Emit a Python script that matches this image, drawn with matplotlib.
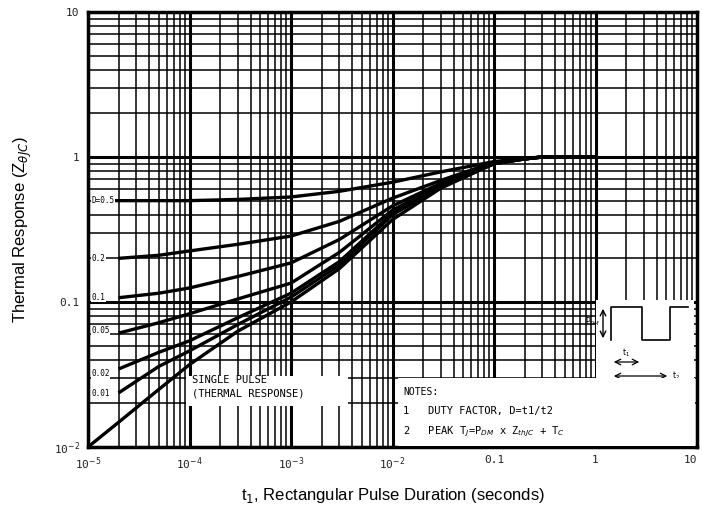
import matplotlib
matplotlib.use("Agg")
import matplotlib.pyplot as plt
import numpy as np

# pulse duration (s) where each curve was read
t_pts = [2e-5, 5e-5, 1e-4, 3e-4, 1e-3, 3e-3, 1e-2, 3e-2, 0.1, 0.2, 0.3, 1.0]
t_half = [1.6e-5, 5e-5, 1e-4, 3e-4, 1e-3, 3e-3, 1e-2, 3e-2, 0.1, 0.2, 0.3, 1.0]
t_single = [1e-5, 2e-5, 5e-5, 1e-4, 3e-4, 1e-3, 3e-3, 1e-2, 3e-2, 0.1, 0.2, 0.3, 1.0]

z_d05 = [0.50, 0.50, 0.50, 0.51, 0.53, 0.58, 0.67, 0.79, 0.93, 0.98, 1.0, 1.0]
z_d02 = [0.20, 0.21, 0.225, 0.25, 0.285, 0.36, 0.52, 0.69, 0.92, 0.97, 1.0, 1.0]
z_d01 = [0.107, 0.115, 0.125, 0.15, 0.186, 0.27, 0.46, 0.66, 0.91, 0.97, 1.0, 1.0]
z_d005 = [0.061, 0.072, 0.083, 0.105, 0.135, 0.22, 0.43, 0.64, 0.90, 0.97, 1.0, 1.0]
z_d002 = [0.0345, 0.045, 0.054, 0.078, 0.115, 0.19, 0.41, 0.63, 0.90, 0.97, 1.0, 1.0]
z_d001 = [0.0236, 0.036, 0.046, 0.07, 0.108, 0.18, 0.40, 0.62, 0.90, 0.97, 1.0, 1.0]
z_single = [0.01, 0.0148, 0.025, 0.037, 0.063, 0.10, 0.17, 0.37, 0.61, 0.90, 0.97, 1.0, 1.0]

d_labels = ["D=0.5", "0.2", "0.1", "0.05", "0.02", "0.01"]
d_label_y = [0.50, 0.20, 0.108, 0.064, 0.032, 0.0235]

xticks = [1e-5, 1e-4, 1e-3, 1e-2, 0.1, 1, 10]
xticklabels = ["10$^{-5}$", "10$^{-4}$", "10$^{-3}$", "10$^{-2}$", "0.1", "1", "10"]
yticks = [0.01, 0.1, 1, 10]
yticklabels = ["10$^{-2}$", "0.1", "1", "10"]

fig = plt.figure(figsize=(7.02, 5.13), dpi=100)
ax = fig.add_axes([88/702, 1 - 447/513, (697-88)/702, (447-12)/513])
ax.set_xscale("log")
ax.set_yscale("log")
ax.set_xlim(1e-5, 10)
ax.set_ylim(0.01, 10)

# chart paper grid
ax.grid(which="major", color="black", lw=2.2)
ax.grid(which="minor", color="black", lw=1.1)
ax.set_axisbelow(True)
for s in ax.spines.values():
    s.set_linewidth(2.5)

curves = [(t_half, z_d05), (t_pts, z_d02), (t_pts, z_d01), (t_pts, z_d005),
          (t_pts, z_d002), (t_pts, z_d001), (t_single, z_single)]
for tt, zz in curves:
    ax.plot(tt, zz, color="black", lw=2.4, solid_capstyle="butt", zorder=3)

for lab, yy in zip(d_labels, d_label_y):
    ax.text(1.08e-5, yy, lab, fontsize=5.5, family="DejaVu Sans Mono",
            va="center", ha="left", zorder=4,
            bbox=dict(facecolor="white", edgecolor="none", pad=0.3))

ax.set_xticks(xticks)
ax.set_xticklabels(xticklabels, family="DejaVu Sans Mono", fontsize=8, color="#222222")
ax.get_xticklabels()[-1].set_horizontalalignment("right")
ax.set_yticks(yticks)
ax.set_yticklabels(yticklabels, family="DejaVu Sans Mono", fontsize=8, color="#222222")
ax.tick_params(which="both", length=0, pad=6)

ax.set_xlabel("t$_1$, Rectangular Pulse Duration (seconds)", fontsize=12,
              family="Liberation Sans", labelpad=10)
ax.set_ylabel("Thermal Response (Z$_{\\theta JC}$)", fontsize=12,
              family="Liberation Sans", labelpad=14)

# single pulse text box
fig.patches.append(plt.Rectangle((186/702, 1 - 406/513), 162/702, 30/513,
                                 transform=fig.transFigure, facecolor="white",
                                 edgecolor="none", zorder=5))
fig.text(192/702, 1 - 387/513, "SINGLE PULSE\n(THERMAL RESPONSE)", fontsize=7.5,
         family="DejaVu Sans Mono", va="center", linespacing=1.4, zorder=6)

# notes box
fig.patches.append(plt.Rectangle((398/702, 1 - 446/513), 297/702, 68/513,
                                 transform=fig.transFigure, facecolor="white",
                                 edgecolor="none", zorder=5))
fig.text(403/702, 1 - 392/513, "NOTES:", fontsize=7, family="DejaVu Sans Mono",
         va="center", zorder=6)
fig.text(403/702, 1 - 411/513, "1   DUTY FACTOR, D=t1/t2", fontsize=7.5,
         family="DejaVu Sans Mono", va="center", zorder=6)
fig.text(403/702, 1 - 432/513,
         "2   PEAK T$_J$=P$_{DM}$ x Z$_{thJC}$ + T$_C$", fontsize=7.5,
         family="DejaVu Sans Mono", va="center", zorder=6)

# waveform sketch
ins = fig.add_axes([596/702, 1 - 385/513, 98/702, 85/513], zorder=5)
ins.set_xlim(596, 694)
ins.set_ylim(385, 300)
ins.set_facecolor("white")
ins.axis("off")
ins.add_patch(plt.Rectangle((596, 300), 98, 85, facecolor="white", edgecolor="none"))
ins.plot([611, 611, 642, 642, 670, 670, 688], [340, 307, 307, 340, 340, 307, 307],
         color="black", lw=1.2)
ins.annotate("", xy=(603, 306), xytext=(603, 341),
             arrowprops=dict(arrowstyle="<->", lw=1, color="black"))
ins.text(600, 322, "P$_{DM}$", fontsize=5.5, ha="right", va="center")
ins.annotate("", xy=(611, 362), xytext=(642, 362),
             arrowprops=dict(arrowstyle="<->", lw=0.9, color="black"))
ins.text(626, 359, "t$_1$", fontsize=5.5, ha="center", va="bottom")
ins.annotate("", xy=(611, 376), xytext=(670, 376),
             arrowprops=dict(arrowstyle="<->", lw=0.9, color="black"))
ins.text(672, 376, "t$_2$", fontsize=5.5, ha="left", va="center")

fig.savefig("out.png", dpi=100)
